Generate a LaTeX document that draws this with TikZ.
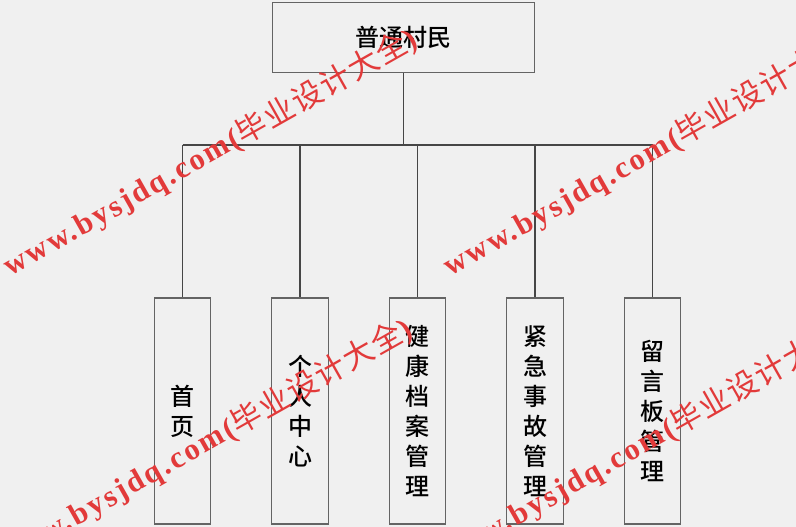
\documentclass[tikz,border=0pt]{standalone}
\usepackage{fontspec}
\setmainfont{Liberation Sans}
\newfontfamily\cjkfont[UprightFont={* Medium}]{Noto Sans CJK SC}
\newfontfamily\wmcjk[LetterSpace=5]{Noto Sans CJK SC}
\newfontfamily\wmlatin[LetterSpace=8]{Liberation Serif}
\usetikzlibrary{positioning}
\definecolor{bggray}{RGB}{240,240,240}
\definecolor{boxgray}{RGB}{100,100,100}
\definecolor{linegray}{RGB}{70,70,70}
\definecolor{wmred}{RGB}{226,58,58}
\tikzstyle{box}=[draw=boxgray, fill=bggray, line width=0.9pt, inner sep=0pt, align=center,
    font=\cjkfont\fontsize{18pt}{22.5pt}\selectfont]
\tikzstyle{rolebox}=[box, minimum width=197pt, minimum height=53pt]
\tikzstyle{funcbox}=[box, minimum width=42.5pt, minimum height=169.5pt]
\tikzstyle{link}=[draw=linegray, line width=0.8pt]
\tikzstyle{wmark}=[text=wmred, rotate=29.5, anchor=base west, inner sep=0pt,
    font=\fontsize{23pt}{23pt}\selectfont]
\newcommand{\wmtext}{{\wmlatin\bfseries www.bysjdq.com(}{\wmcjk 毕业设计大全}{\wmlatin\bfseries )}}

\begin{document}
\begin{tikzpicture}[x=0.75pt, y=-0.75pt]
    \fill[bggray] (0,0) rectangle (796,527);
    \clip (0,0) rectangle (796,527);
    % role and its functions
    \node[rolebox]                (role)   at (403.5,37.5) {普通村民};
    \node[funcbox]                (home)   at (182.5,411)  {首\\页};
    \node[funcbox]                (self)   at (300,411)    {个\\人\\中\\心};
    \node[funcbox]                (health) at (417.5,411)  {健\\康\\档\\案\\管\\理};
    \node[funcbox]                (emerg)  at (535,411)    {紧\\急\\事\\故\\管\\理};
    \node[funcbox]                (board)  at (652.5,411)  {留\\言\\板\\管\\理};
    \coordinate (bus) at (403.5,145);
    \draw[link] (role.south) -- (bus);
    \draw[link] (home.north |- bus) -- (board.north |- bus);
    \foreach \f in {home,self,health,emerg,board}
        \draw[link] (\f.north |- bus) -- (\f.north);
    % watermark
    \node[wmark] (wm1) at (10,277)  {\wmtext};
    \node[wmark] (wm2) at (450,277) {\wmtext};
    \node[wmark] (wm3) at (5,567)   {\wmtext};
    \node[wmark] (wm4) at (445,567) {\wmtext};
\end{tikzpicture}
\end{document}
